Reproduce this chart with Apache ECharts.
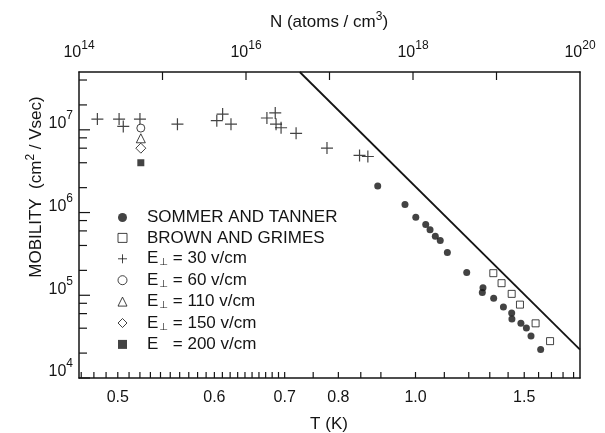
<!DOCTYPE html>
<html>
<head>
<meta charset="utf-8">
<script src="https://cdn.jsdelivr.net/npm/echarts@6/dist/echarts.min.js"></script>
<style>
  html, body { margin: 0; background: #fff; }
  #chart { width: 605px; height: 433px; }
</style>
</head>
<body>
<div id="chart"></div>
<script>
// x: helium vapour density N (atoms/cm3), y: mobility (cm2/Vsec)
const sommerTanner = [
  [3.78e17, 2.09e6], [8.02e17, 1.25e6], [1.08e18, 8.79e5], [1.42e18, 7.16e5],
  [1.60e18, 6.18e5], [1.85e18, 5.16e5], [2.12e18, 4.58e5], [2.58e18, 3.30e5],
  [4.40e18, 1.89e5], [6.89e18, 1.23e5], [6.76e18, 1.08e5], [9.25e18, 9.23e4],
  [1.21e19, 7.23e4], [1.52e19, 6.11e4], [1.53e19, 5.16e4], [1.96e19, 4.58e4],
  [2.28e19, 4.02e4], [2.59e19, 3.21e4], [3.38e19, 2.21e4]
];
const brownGrimes = [
  [9.16e18, 1.85e5], [1.15e19, 1.40e5], [1.52e19, 1.04e5],
  [1.91e19, 7.71e4], [2.94e19, 4.58e4], [4.38e19, 2.79e4]
];
const field30 = [
  [1.66e14, 1.35e7], [3.02e14, 1.35e7], [3.39e14, 1.10e7], [5.37e14, 1.35e7],
  [1.51e15, 1.17e7], [4.47e15, 1.29e7], [5.25e15, 1.55e7], [6.61e15, 1.17e7],
  [1.78e16, 1.39e7], [2.24e16, 1.60e7], [2.29e16, 1.17e7], [2.63e16, 1.06e7],
  [3.98e16, 9.06e6], [9.33e16, 6.01e6], [2.29e17, 4.90e6], [2.88e17, 4.76e6]
];
const field60 = [[5.5e14, 1.05e7]];
const field110 = [[5.5e14, 7.9e6]];
const field150 = [[5.5e14, 6.0e6]];
const field200 = [[5.5e14, 4.0e6]];
const limitLine = [[4.4e16, 5e7], [1e20, 2.2e4]];

const seriesNames = ['SOMMER AND TANNER', 'BROWN AND GRIMES', 'E⊥ = 30 v/cm',
  'E⊥ = 60 v/cm', 'E⊥ = 110 v/cm', 'E⊥ = 150 v/cm', 'E = 200 v/cm'];

// tick labels and tick marks
const nExponents = [14, 16, 18, 20];
const nTicks = [15, 16, 17, 18, 19];
const muExponents = [4, 5, 6, 7];
const tLabels = [0.5, 0.6, 0.7, 0.8, 1.0, 1.5];
const tTicks = [0.47, 0.48, 0.49, 0.50, 0.51, 0.52, 0.53, 0.54, 0.55, 0.56, 0.57, 0.58,
  0.59, 0.60, 0.61, 0.62, 0.63, 0.64, 0.65, 0.66, 0.67, 0.68, 0.69, 0.70, 0.75, 0.80,
  0.85, 0.90, 1.0, 1.1, 1.2, 1.3, 1.4, 1.5, 1.6, 1.7, 1.8, 1.9];
const yMinorTicks = [2e4, 4e4, 6e4, 8e4, 2e5, 4e5, 6e5, 8e5, 2e6, 4e6, 6e6, 8e6, 2e7, 4e7];

// log10 of He-4 vapour density at temperature T (K), lined up with the N scale
const logN = T => 18.03 + 1.5 * Math.log10(T) - 3.114 * (1 / T - 1);

const font = 'Liberation Sans';
const ink = '#141414';
const yMax = Math.log10(5e7);

const axisLine = show => ({ show: show, onZero: false, lineStyle: { color: ink, width: 1.5 } });
// axes that only carry labels
const labelAxis = extra => Object.assign({
  type: 'value', axisLine: { show: false, onZero: false }, axisTick: { show: false }, splitLine: { show: false }
}, extra);

// inward tick marks: kind 0 bottom, 1 top, 2 left major, 3 left minor
const tickMarks = [].concat(
  tTicks.map(t => [logN(t), 0]),
  nTicks.map(e => [e, 1]),
  muExponents.map(e => [e, 2]),
  yMinorTicks.map(v => [Math.log10(v), 3])
);
const renderTick = (params, api) => {
  const v = api.value(0);
  const kind = api.value(1);
  const cs = params.coordSys;
  let shape;
  if (kind === 0 || kind === 1) {
    const x = api.coord([v, 5])[0];
    const edge = kind === 0 ? cs.y + cs.height : cs.y;
    shape = { x1: x, y1: edge, x2: x, y2: kind === 0 ? edge - 6 : edge + 8 };
  } else {
    const y = api.coord([15, v])[1];
    shape = { x1: cs.x, y1: y, x2: cs.x + (kind === 2 ? 11 : 8), y2: y };
  }
  return { type: 'line', shape: shape, style: { stroke: ink, lineWidth: 1.2 } };
};

const chart = echarts.init(document.getElementById('chart'), null, { renderer: 'canvas' });

const plus = 'path://M0,5L10,5M5,0L5,10';
const openStyle = { color: '#fff', borderColor: ink, borderWidth: 1 };

chart.setOption({
  animation: false,
  backgroundColor: '#fff',
  grid: { left: 79, right: 25, top: 72, bottom: 55, outerBoundsMode: 'none' },
  xAxis: [
    {
      type: 'log', position: 'top', min: 1e14, max: 1e20, splitNumber: 6,
      axisLine: axisLine(true), axisTick: { show: false },
      splitLine: { show: false }, axisLabel: { show: false }
    },
    {
      type: 'value', position: 'bottom', min: 14, max: 20,
      axisLine: axisLine(true), axisTick: { show: false },
      splitLine: { show: false }, axisLabel: { show: false }
    },
    labelAxis({
      position: 'top', min: 14, max: 20,
      axisLabel: {
        show: true, margin: 11, customValues: nExponents,
        formatter: v => '{b|10}{s|' + Math.round(v) + '}',
        rich: {
          b: { fontFamily: font, fontSize: 16, lineHeight: 16, color: ink },
          s: { fontFamily: font, fontSize: 12, lineHeight: 12, color: ink, padding: [0, 0, 14, 0] }
        }
      }
    }),
    labelAxis({
      position: 'bottom', min: 14, max: 20,
      axisLabel: {
        show: true, margin: 12, fontFamily: font, fontSize: 16, color: ink,
        customValues: tLabels.map(logN),
        formatter: v => {
          const t = tLabels.find(t => Math.abs(logN(t) - v) < 1e-6);
          return t === undefined ? '' : t.toFixed(1);
        }
      }
    })
  ],
  yAxis: [
    {
      type: 'log', position: 'left', min: 1e4, max: 5e7, splitNumber: 4,
      axisLine: axisLine(true), axisTick: { show: false },
      splitLine: { show: false }, axisLabel: { show: false }
    },
    {
      type: 'value', position: 'left', min: 4, max: yMax,
      axisLine: axisLine(false), axisTick: { show: false },
      splitLine: { show: false }, axisLabel: { show: false }
    },
    {
      // right-hand frame edge
      type: 'value', position: 'right', min: 1, max: 2,
      axisLine: axisLine(true), axisTick: { show: false },
      splitLine: { show: false }, axisLabel: { show: false }
    },
    labelAxis({
      position: 'left', min: 4, max: yMax,
      axisLabel: {
        show: true, margin: 6, customValues: muExponents,
        formatter: v => '{b|10}{s|' + Math.round(v) + '}',
        rich: {
          b: { fontFamily: font, fontSize: 16, lineHeight: 16, color: ink, padding: [0, 0, 12, 0] },
          s: { fontFamily: font, fontSize: 12, lineHeight: 12, color: ink, padding: [0, 0, 28, 0] }
        }
      }
    })
  ],
  legend: {
    orient: 'vertical', left: 110.5, top: 204, itemWidth: 9, itemHeight: 9, itemGap: 3.4,
    data: seriesNames,
    itemStyle: { borderWidth: 1 },
    formatter: name => {
      const m = name.match(/^E(⊥?) (= .*)$/);
      if (!m) return '{p|' + name + '}';
      return '{p|E}' + (m[1] ? '{sub|⊥}' : '{gap|⊥}') + '{n| ' + m[2] + '}';
    },
    textStyle: {
      fontFamily: font, fontSize: 17, color: ink,
      rich: {
        p: { fontFamily: font, fontSize: 17, lineHeight: 18, color: ink, padding: [0, 0, 0, 15] },
        n: { fontFamily: font, fontSize: 17, lineHeight: 18, color: ink },
        sub: { fontFamily: 'DejaVu Sans', fontSize: 10, lineHeight: 10, color: ink, padding: [8, 0, 0, 1] },
        gap: { fontFamily: 'DejaVu Sans', fontSize: 10, lineHeight: 10, color: 'rgba(0,0,0,0)', padding: [8, 0, 0, 1] }
      }
    }
  },
  graphic: [
    {
      type: 'text', x: 329, y: 22,
      style: {
        text: '{t|N (atoms / cm}{s|3}{t|)}', align: 'center', verticalAlign: 'middle',
        rich: {
          t: { fontFamily: font, fontSize: 17, lineHeight: 17, fill: ink },
          s: { fontFamily: font, fontSize: 12, lineHeight: 12, fill: ink, padding: [0, 0, 10, 0] }
        }
      }
    },
    {
      type: 'text', x: 329, y: 424,
      style: { text: 'T (K)', font: '17px "Liberation Sans"', fill: ink, align: 'center', verticalAlign: 'middle' }
    },
    {
      type: 'text', x: 36, y: 187, rotation: Math.PI / 2,
      style: {
        text: '{t|MOBILITY  (cm}{s|2}{t| / Vsec)}', align: 'center', verticalAlign: 'middle',
        rich: {
          t: { fontFamily: font, fontSize: 17, lineHeight: 17, fill: ink },
          s: { fontFamily: font, fontSize: 12, lineHeight: 12, fill: ink, padding: [0, 0, 10, 0] }
        }
      }
    }
  ],
  series: [
    {
      type: 'custom', xAxisIndex: 1, yAxisIndex: 1, data: tickMarks, renderItem: renderTick,
      clip: false, silent: true, z: 3
    },
    {
      type: 'line', data: limitLine, xAxisIndex: 0, yAxisIndex: 0, symbol: 'none', silent: true,
      lineStyle: { color: ink, width: 1.8 }, z: 1
    },
    { name: seriesNames[0], type: 'scatter', xAxisIndex: 0, yAxisIndex: 0, data: sommerTanner, symbol: 'circle', symbolSize: 7, itemStyle: { color: ink } },
    { name: seriesNames[1], type: 'scatter', xAxisIndex: 0, yAxisIndex: 0, data: brownGrimes, symbol: 'rect', symbolSize: 7, itemStyle: openStyle },
    {
      name: seriesNames[2], type: 'scatter', xAxisIndex: 0, yAxisIndex: 0, data: field30, symbol: plus, symbolSize: 12,
      itemStyle: { color: 'none', borderColor: ink, borderWidth: 1.2 }
    },
    { name: seriesNames[3], type: 'scatter', xAxisIndex: 0, yAxisIndex: 0, data: field60, symbol: 'circle', symbolSize: 8, itemStyle: openStyle },
    { name: seriesNames[4], type: 'scatter', xAxisIndex: 0, yAxisIndex: 0, data: field110, symbol: 'triangle', symbolSize: 9, itemStyle: openStyle },
    { name: seriesNames[5], type: 'scatter', xAxisIndex: 0, yAxisIndex: 0, data: field150, symbol: 'diamond', symbolSize: 10, itemStyle: openStyle },
    { name: seriesNames[6], type: 'scatter', xAxisIndex: 0, yAxisIndex: 0, data: field200, symbol: 'rect', symbolSize: 7, itemStyle: { color: ink } }
  ]
});
</script>
</body>
</html>
